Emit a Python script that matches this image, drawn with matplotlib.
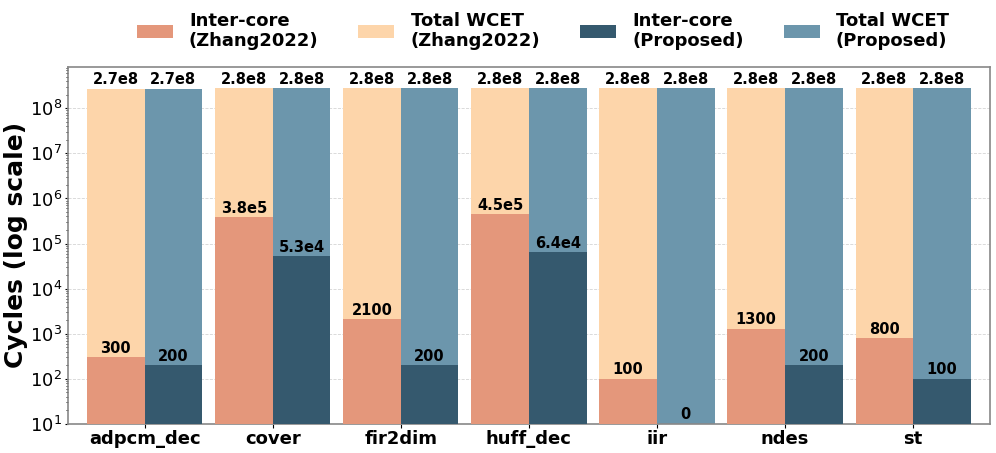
import matplotlib
matplotlib.use("Agg")
import matplotlib.pyplot as plt
import numpy as np

benchmarks = ["adpcm_dec", "cover", "fir2dim", "huff_dec", "iir", "ndes", "st"]
total_zhang = [2.7e8, 2.8e8, 2.8e8, 2.8e8, 2.8e8, 2.8e8, 2.8e8]
total_prop = [2.7e8, 2.8e8, 2.8e8, 2.8e8, 2.8e8, 2.8e8, 2.8e8]
inter_zhang = [300, 3.8e5, 2100, 4.5e5, 100, 1300, 800]
inter_prop = [200, 5.3e4, 200, 6.4e4, 0, 200, 100]

c_inter_z = "#e4977b"
c_total_z = "#fdd5aa"
c_inter_p = "#35596e"
c_total_p = "#6c96ac"


def fmt(v):
    if v >= 1e4:
        m, e = ("%.1e" % v).split("e")
        return m + "e" + str(int(e))
    return str(int(v))


fig, ax = plt.subplots(figsize=(9.96, 4.53), dpi=100)
x = np.arange(len(benchmarks))
w = 0.45

ax.bar(x - w / 2, total_zhang, w, color=c_total_z, label="Total WCET\n(Zhang2022)", zorder=2)
ax.bar(x + w / 2, total_prop, w, color=c_total_p, label="Total WCET\n(Proposed)", zorder=2)
ip = [v if v > 0 else np.nan for v in inter_prop]
ax.bar(x - w / 2, inter_zhang, w, color=c_inter_z, label="Inter-core\n(Zhang2022)", zorder=3)
ax.bar(x + w / 2, ip, w, color=c_inter_p, label="Inter-core\n(Proposed)", zorder=3)

ax.set_yscale("log")
ax.set_ylim(10, 8.4e8)
ax.set_xlim(-0.6, len(benchmarks) - 0.4)

for i in range(len(benchmarks)):
    for xx, v in [(x[i] - w / 2, total_zhang[i]), (x[i] + w / 2, total_prop[i]),
                  (x[i] - w / 2, inter_zhang[i]), (x[i] + w / 2, inter_prop[i])]:
        y = v * 1.08 if v > 0 else 11
        ax.text(xx, y, fmt(v), ha="center", va="bottom", fontsize=10.5,
                fontweight="bold", zorder=5)

ax.set_xticks(x)
ax.set_xticklabels(benchmarks, fontsize=13, fontweight="bold")
ax.tick_params(axis="y", labelsize=13, length=2, pad=2)
ax.tick_params(axis="y", which="minor", length=1.5)
ax.tick_params(axis="x", length=3, pad=1.5)
ax.set_ylabel("Cycles (log scale)", fontsize=18, fontweight="bold")
ax.yaxis.set_label_coords(-0.043, 0.5)
ax.grid(axis="y", which="major", linestyle="--", color="#d5d5d5", linewidth=0.6, zorder=0)
for s in ax.spines.values():
    s.set_color("#888888")
    s.set_linewidth(1.2)

h, l = ax.get_legend_handles_labels()
order = [2, 0, 3, 1]
ax.legend([h[k] for k in order], [l[k] for k in order], ncol=4, loc="lower center",
          bbox_to_anchor=(0.515, 1.0), frameon=False, handletextpad=0.9,
          prop={"weight": "bold", "size": 13}, columnspacing=2.2)

plt.subplots_adjust(left=0.068, right=0.994, top=0.853, bottom=0.064)
plt.savefig("out.png", dpi=100)
